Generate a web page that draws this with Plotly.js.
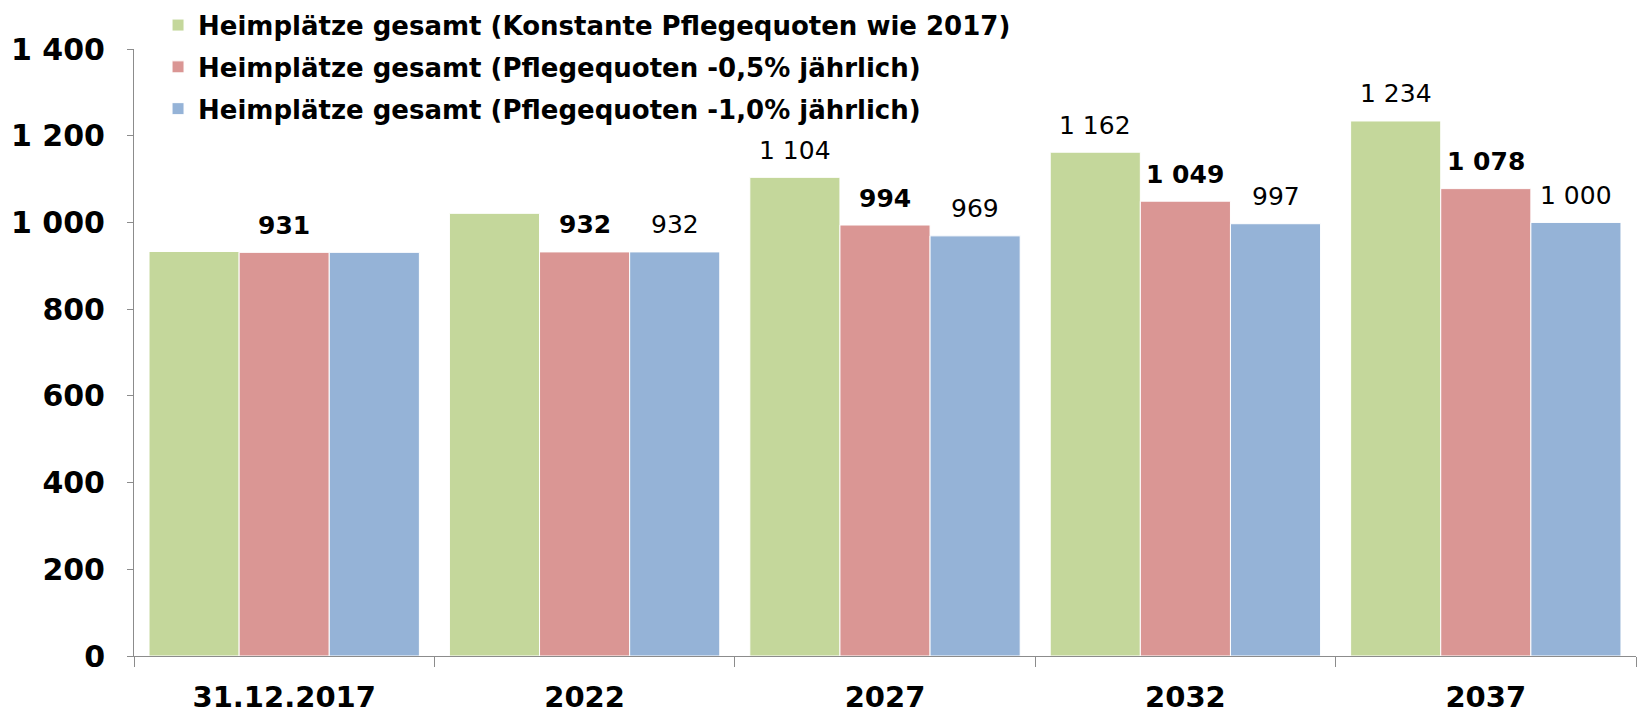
<!DOCTYPE html>
<html>
<head>
<meta charset="utf-8">
<script src="https://cdn.plot.ly/plotly-3.0.1.min.js"></script>
<style>html,body{margin:0;padding:0;background:#fff;}#chart{width:1638px;height:714px;}</style>
</head>
<body>
<div id="chart"></div>
<script>
const categories = ["31.12.2017", "2022", "2027", "2032", "2037"];
const seriesNames = [
  "Heimplätze gesamt (Konstante Pflegequoten wie 2017)",
  "Heimplätze gesamt (Pflegequoten -0,5% jährlich)",
  "Heimplätze gesamt (Pflegequoten -1,0% jährlich)"
];
const konstant = [933, 1021, 1104, 1162, 1234];
const minus05 = [931, 932, 994, 1049, 1078];
const minus10 = [931, 932, 969, 997, 1000];
// which values carry a data label (true = shown)
const labelKonstant = [false, false, true, true, true];
const labelMinus05 = [true, true, true, true, true];
const labelMinus10 = [false, true, true, true, true];
const colors = ["#C4D79B", "#DA9694", "#95B3D7"];
const yTicks = [0, 200, 400, 600, 800, 1000, 1200, 1400];

const series = [konstant, minus05, minus10];
const labelFlags = [labelKonstant, labelMinus05, labelMinus10];
const boldSeries = [false, true, false];

function fmt(v) { return String(v).replace(/\B(?=(\d{3})+(?!\d))/g, " "); }

const traces = series.map((vals, i) => ({
  type: "bar",
  name: seriesNames[i],
  x: categories,
  y: vals,
  legendgroup: "g" + i,
  marker: { color: colors[i], line: { color: "#ffffff", width: 1 } },
  hoverinfo: "none"
}));

const bargap = 0.1;
const barW = (1 - bargap) / 3;
const annotations = [];
series.forEach((vals, i) => {
  vals.forEach((v, j) => {
    if (!labelFlags[i][j]) return;
    annotations.push({
      x: j + (i - 1) * barW,
      y: v,
      xref: "x",
      yref: "y",
      text: boldSeries[i] ? "<b>" + fmt(v) + "</b>" : fmt(v),
      showarrow: false,
      yanchor: "middle",
      xanchor: "center",
      yshift: 27,
      font: { family: "DejaVu Sans", size: 25, color: "#000000" }
    });
  });
});

const layout = {
  width: 1638,
  height: 714,
  margin: { l: 134, r: 2, t: 47, b: 58 },
  paper_bgcolor: "#ffffff",
  plot_bgcolor: "#ffffff",
  barmode: "group",
  bargap: bargap,
  bargroupgap: 0,
  showlegend: true,
  legend: {
    x: 0.016, y: 1.078, xanchor: "left", yanchor: "top",
    font: { family: "DejaVu Sans", size: 26, color: "#000000", weight: "bold" },
    tracegroupgap: 5,
    bgcolor: "rgba(0,0,0,0)"
  },
  xaxis: {
    type: "category",
    range: [-0.5, 4.5],
    showline: true, linecolor: "#8c8c8c", linewidth: 1,
    ticks: "outside", tickson: "boundaries", ticklen: 10, tickcolor: "#8c8c8c",
    tickfont: { family: "DejaVu Sans", size: 29, color: "#000000", weight: "bold" },
    ticklabelstandoff: 15,
    showgrid: false, zeroline: false
  },
  yaxis: {
    range: [0, 1400],
    tickvals: yTicks,
    ticktext: yTicks.map(fmt),
    showline: true, linecolor: "#8c8c8c", linewidth: 1,
    ticks: "outside", ticklen: 6, tickcolor: "#8c8c8c",
    tickfont: { family: "DejaVu Sans", size: 30, color: "#000000", weight: "bold" },
    ticklabelstandoff: 16,
    showgrid: false, zeroline: false
  },
  annotations: annotations
};

Plotly.newPlot("chart", traces, layout, { displayModeBar: false, staticPlot: true });
</script>
</body>
</html>
